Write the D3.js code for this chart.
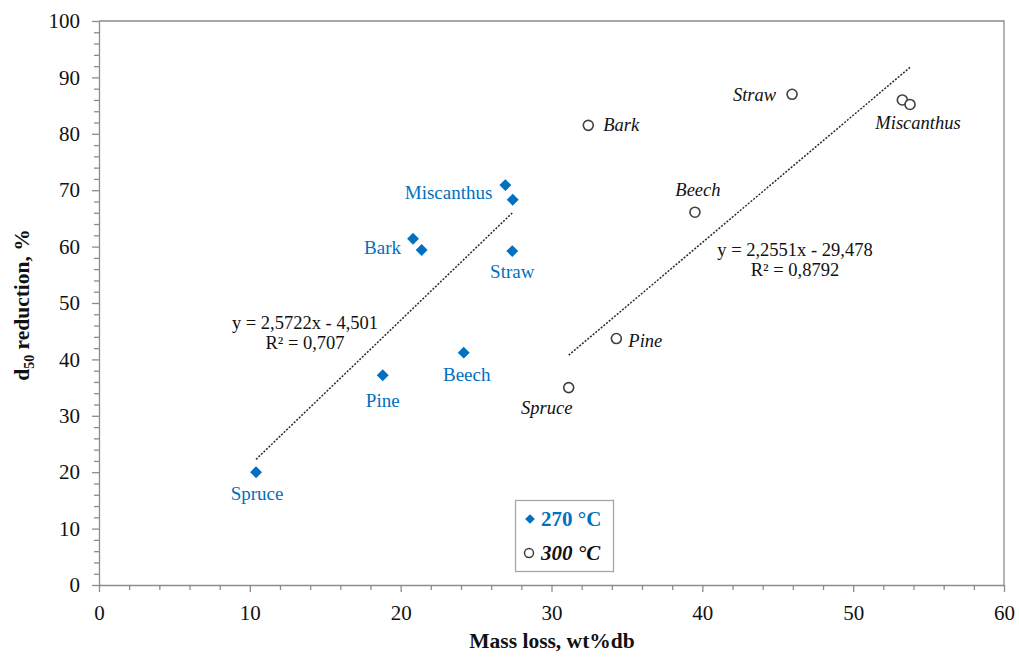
<!DOCTYPE html>
<html>
<head>
<meta charset="utf-8">
<script src="https://cdn.jsdelivr.net/npm/d3@7/dist/d3.min.js"></script>
<style>
  html, body { margin: 0; padding: 0; background: #fff; }
  svg { display: block; }
  text { font-family: "Liberation Serif", "Times New Roman", serif; }
</style>
</head>
<body>
<svg id="chart" width="1019" height="657"></svg>
<script>
// ---- data ----
const labels270   = ["Spruce", "Pine", "Beech", "Bark", "", "Miscanthus", "", "Straw"];
const massLoss270 = [10.41, 18.81, 24.18, 20.82, 21.39, 26.94, 27.43, 27.40];
const d50red270   = [20.0, 37.2, 41.2, 61.4, 59.4, 70.9, 68.3, 59.2];

const labels300   = ["Spruce", "Pine", "Beech", "Bark", "", "Miscanthus", "Straw"];
const massLoss300 = [31.14, 34.30, 39.51, 32.44, 53.26, 53.77, 45.95];
const d50red300   = [35.0, 43.7, 66.1, 81.5, 86.0, 85.2, 87.0];

const fit270 = { slope: 2.5722, intercept: -4.501, eq: "y = 2,5722x - 4,501", r2: "R² = 0,707" };
const fit300 = { slope: 2.2551, intercept: -29.478, eq: "y = 2,2551x - 29,478", r2: "R² = 0,8792" };

const xTicks = [0, 10, 20, 30, 40, 50, 60];
const yTicks = [0, 10, 20, 30, 40, 50, 60, 70, 80, 90, 100];

// ---- layout / style (not data) ----
const blue = "#0070C0";
const grey = "#8c8c8c";
const labelOffsets270 = {
  "Spruce": [1, 28, "middle"], "Pine": [0, 32, "middle"], "Beech": [3, 28, "middle"],
  "Bark": [-12, 15, "end"], "Miscanthus": [-13, 14, "end"], "Straw": [0, 27, "middle"]
};
const labelOffsets300 = {
  "Spruce": [-22, 26, "middle"], "Pine": [12, 8, "start"], "Beech": [3, -16, "middle"],
  "Bark": [15, 6, "start"], "Miscanthus": [8, 25, "middle"], "Straw": [-16, 7, "end"]
};

const svg = d3.select("#chart");
const x = d3.scaleLinear().domain([0, 60]).range([99, 1004]);
const y = d3.scaleLinear().domain([0, 100]).range([585, 21]);

// plot frame (top and right)
svg.append("path")
  .attr("d", `M${x(0)},${y(100)}H${x(60)}V${y(0)}`)
  .attr("fill", "none").attr("stroke", grey).attr("stroke-width", 1.3);

// minor ticks
const minorX = d3.range(0, 61, 2).filter(v => v % 10 !== 0);
const minorY = d3.range(0, 101, 2).filter(v => v % 10 !== 0);
svg.append("g").attr("transform", `translate(0,${y(0)})`)
  .call(d3.axisBottom(x).tickValues(minorX).tickSize(5).tickFormat(""))
  .call(g => g.select(".domain").remove());
svg.append("g").attr("transform", `translate(${x(0)},0)`)
  .call(d3.axisLeft(y).tickValues(minorY).tickSize(5).tickFormat(""))
  .call(g => g.select(".domain").remove());

// major axes
svg.append("g").attr("transform", `translate(0,${y(0)})`)
  .call(d3.axisBottom(x).tickValues(xTicks).tickSize(7).tickSizeOuter(0).tickPadding(13).tickFormat(d3.format("d")));
svg.append("g").attr("transform", `translate(${x(0)},0)`)
  .call(d3.axisLeft(y).tickValues(yTicks).tickSize(7).tickSizeOuter(0).tickPadding(12).tickFormat(d3.format("d")));
svg.selectAll(".tick line").attr("stroke", grey).attr("stroke-width", 1.3);
svg.selectAll(".domain").attr("stroke", grey).attr("stroke-width", 1.3);
svg.selectAll(".tick text").attr("font-family", "Liberation Serif, serif").attr("font-size", 21).attr("fill", "#111");

// axis titles
svg.append("text").attr("x", 552).attr("y", 648).attr("text-anchor", "middle")
  .attr("font-weight", "bold").attr("font-size", 21.5).attr("fill", "#111")
  .text("Mass loss, wt%db");
const yt = svg.append("text").attr("transform", "translate(29,305) rotate(-90)")
  .attr("text-anchor", "middle").attr("font-weight", "bold").attr("font-size", 21.5).attr("fill", "#111");
yt.append("tspan").text("d");
yt.append("tspan").attr("font-size", 14).attr("dy", 5).text("50");
yt.append("tspan").attr("dy", -5).text(" reduction, %");

// regression lines
function fitLine(fit, xs) {
  const x0 = d3.min(xs), x1 = d3.max(xs);
  svg.append("line")
    .attr("x1", x(x0)).attr("y1", y(fit.slope * x0 + fit.intercept))
    .attr("x2", x(x1)).attr("y2", y(fit.slope * x1 + fit.intercept))
    .attr("stroke", "#2a2a2a").attr("stroke-width", 1.5).attr("stroke-dasharray", "2,1.5");
}
fitLine(fit270, massLoss270);
fitLine(fit300, massLoss300);

// equations
function eqText(fit, cx, by) {
  svg.append("text").attr("x", cx).attr("y", by).attr("text-anchor", "middle")
    .attr("font-size", 18.5).attr("fill", "#111").text(fit.eq);
  svg.append("text").attr("x", cx).attr("y", by + 20).attr("text-anchor", "middle")
    .attr("font-size", 18.5).attr("fill", "#111").text(fit.r2);
}
eqText(fit270, 305, 329);
eqText(fit300, 795, 256);

// 270 °C points (diamonds)
const pts270 = massLoss270.map((m, i) => ({ m, d: d50red270[i], label: labels270[i] }));
const diamond = d3.symbol().type(d3.symbolDiamond2).size(90);
svg.append("g").selectAll("path").data(pts270).join("path")
  .attr("d", diamond)
  .attr("transform", p => `translate(${x(p.m)},${y(p.d)})`)
  .attr("fill", blue);
svg.append("g").selectAll("text").data(pts270.filter(p => p.label)).join("text")
  .attr("x", p => x(p.m) + labelOffsets270[p.label][0])
  .attr("y", p => y(p.d) + labelOffsets270[p.label][1])
  .attr("text-anchor", p => labelOffsets270[p.label][2])
  .attr("font-size", 19).attr("fill", blue)
  .text(p => p.label);

// 300 °C points (open circles)
const pts300 = massLoss300.map((m, i) => ({ m, d: d50red300[i], label: labels300[i] }));
svg.append("g").selectAll("circle").data(pts300).join("circle")
  .attr("cx", p => x(p.m)).attr("cy", p => y(p.d)).attr("r", 5)
  .attr("fill", "#fff").attr("stroke", "#404040").attr("stroke-width", 1.6);
svg.append("g").selectAll("text").data(pts300.filter(p => p.label)).join("text")
  .attr("x", p => x(p.m) + labelOffsets300[p.label][0])
  .attr("y", p => y(p.d) + labelOffsets300[p.label][1])
  .attr("text-anchor", p => labelOffsets300[p.label][2])
  .attr("font-size", 18.5).attr("font-style", "italic").attr("fill", "#111")
  .text(p => p.label);

// legend
const lg = svg.append("g");
lg.append("rect").attr("x", 515.5).attr("y", 500.5).attr("width", 98).attr("height", 71)
  .attr("fill", "#fff").attr("stroke", "#a6a6a6").attr("stroke-width", 1.3);
lg.append("path").attr("d", d3.symbol().type(d3.symbolDiamond2).size(60))
  .attr("transform", "translate(530,519)").attr("fill", blue);
lg.append("text").attr("x", 541).attr("y", 526).attr("font-size", 21).attr("font-weight", "bold")
  .attr("fill", blue).text("270 °C");
lg.append("circle").attr("cx", 529).attr("cy", 553).attr("r", 4.5)
  .attr("fill", "#fff").attr("stroke", "#404040").attr("stroke-width", 1.5);
lg.append("text").attr("x", 541).attr("y", 560).attr("font-size", 21).attr("font-weight", "bold")
  .attr("font-style", "italic").attr("fill", "#111").text("300 °C");
</script>
</body>
</html>
